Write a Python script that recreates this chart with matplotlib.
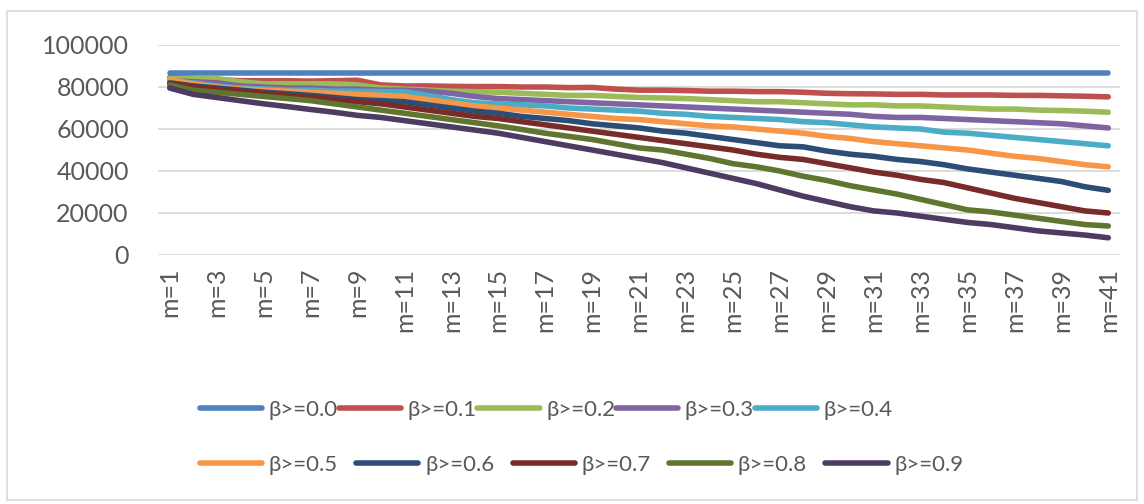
import matplotlib
matplotlib.use("Agg")
from matplotlib import pyplot as plt
from matplotlib.patches import Rectangle

plt.rcParams['font.family'] = ['Lato', 'DejaVu Sans']

m_values = list(range(1, 42))
tick_labels = [f"m={m}" for m in m_values]

beta_00 = [86700] * 41
beta_01 = [84500, 84000, 83500, 83000, 83000, 83000, 82800, 83000, 83200, 81000,
           80500, 80500, 80300, 80200, 80200, 80000, 80000, 79700, 79800, 79000,
           78500, 78500, 78300, 78000, 78000, 77800, 77800, 77500, 77000, 76800,
           76700, 76500, 76500, 76200, 76200, 76200, 76000, 76000, 75800, 75600, 75300]
beta_02 = [84000, 84000, 84000, 82500, 81500, 81500, 81500, 81500, 81000, 79500,
           79000, 78500, 78000, 77800, 77500, 77000, 76500, 76000, 76000, 75500,
           75000, 74800, 74500, 74000, 73500, 73000, 73000, 72500, 72000, 71500,
           71500, 71000, 71000, 70500, 70000, 69500, 69500, 69000, 68800, 68500, 68000]
beta_03 = [83000, 82500, 82000, 80500, 80000, 79500, 79500, 79000, 79000, 78500,
           78500, 78000, 77000, 75500, 74500, 74000, 73500, 73000, 72500, 72000,
           71500, 71000, 70500, 70000, 69500, 69000, 68500, 68000, 67500, 67000,
           66000, 65500, 65500, 65000, 64500, 64000, 63500, 63000, 62500, 61500, 60500]
beta_04 = [82500, 82000, 80500, 79500, 79000, 78500, 78500, 78000, 78000, 77800,
           77700, 76000, 74000, 72500, 72000, 71500, 71000, 70000, 69500, 69000,
           68500, 67500, 67000, 66000, 65500, 65000, 64500, 63500, 63000, 62000,
           61000, 60500, 60000, 58500, 58000, 57000, 56000, 55000, 54000, 53000, 52000]
beta_05 = [83500, 81500, 80000, 79000, 78500, 78000, 77500, 77000, 76500, 76000,
           75500, 74000, 72500, 71000, 70000, 69000, 68000, 67000, 66000, 65000,
           64500, 63500, 62500, 61500, 61000, 60000, 59000, 58000, 56500, 55500,
           54000, 53000, 52000, 51000, 50000, 48500, 47000, 46000, 44500, 43000, 42000]
beta_06 = [82000, 80500, 79500, 78500, 77500, 76800, 76000, 75000, 74000, 73500,
           73000, 71500, 70000, 68500, 67500, 66000, 65000, 64000, 62500, 61500,
           60500, 59000, 58000, 56500, 55000, 53500, 52000, 51500, 49500, 48000,
           47000, 45500, 44500, 43000, 41000, 39500, 38000, 36500, 35000, 32500, 30800]
beta_07 = [81500, 80000, 79000, 78000, 77000, 76000, 75000, 74000, 73000, 72000,
           70500, 69000, 67500, 66000, 65000, 63500, 62000, 60500, 59000, 57500,
           56000, 54500, 53000, 51500, 50000, 48000, 46500, 45500, 43500, 41500,
           39500, 38000, 36000, 34500, 32000, 29500, 27000, 25000, 23000, 21000, 20000]
beta_08 = [81000, 78500, 77500, 76500, 75500, 74500, 73500, 72000, 70500, 69000,
           67500, 66000, 64500, 63000, 61500, 59800, 58000, 56500, 55000, 53000,
           51000, 50000, 48000, 46000, 43500, 42000, 40000, 37500, 35500, 33000,
           31000, 29000, 26500, 24000, 21500, 20500, 19000, 17500, 16000, 14500, 13800]
beta_09 = [79500, 76500, 75000, 73500, 72000, 70700, 69300, 68000, 66500, 65500,
           64000, 62500, 61000, 59500, 58000, 56000, 54000, 52000, 50000, 48000,
           46000, 44000, 41500, 39000, 36500, 34000, 31000, 28000, 25500, 23000,
           21000, 20000, 18500, 17000, 15500, 14500, 13000, 11500, 10500, 9500, 8200]

series = [beta_00, beta_01, beta_02, beta_03, beta_04,
          beta_05, beta_06, beta_07, beta_08, beta_09]
names = ["β>=0.0", "β>=0.1", "β>=0.2", "β>=0.3", "β>=0.4",
         "β>=0.5", "β>=0.6", "β>=0.7", "β>=0.8", "β>=0.9"]
colors = ['#4F81BD', '#C0504D', '#9BBB59', '#8064A2', '#4BACC6',
          '#F79646', '#2C4D75', '#772C2A', '#5F7530', '#4D3B62']

W, H = 1144, 504
fig = plt.figure(figsize=(W / 100, H / 100), dpi=100)
# outer chart border
fig.patches.append(Rectangle((7 / W, 4 / H), 1130 / W, 489 / H, transform=fig.transFigure,
                             fill=False, edgecolor='#D9D9D9', linewidth=1.2))

ax = fig.add_axes([158 / W, 1 - 255 / H, (1120 - 158) / W, (255 - 45) / H])

lines = []
for vals, name, c in zip(series, names, colors):
    ln, = ax.plot(m_values, vals, color=c, linewidth=4, solid_capstyle='round',
                  solid_joinstyle='round', label=name)
    lines.append(ln)

ax.set_xlim(0.5, 41.5)
ax.set_ylim(0, 100000)
ax.set_yticks(range(0, 100001, 20000))
ax.set_yticklabels([str(v) for v in range(0, 100001, 20000)])
ax.set_xticks(m_values[::2])
ax.set_xticklabels(tick_labels[::2], rotation=90)
ax.tick_params(axis='both', length=0, labelsize=18, colors='#595959')
ax.tick_params(axis='y', pad=21)
ax.tick_params(axis='x', pad=9)
ax.grid(axis='y', color='#D9D9D9', linewidth=1.3)
ax.set_axisbelow(True)
for s in ax.spines.values():
    s.set_visible(False)

# legend in two rows, like the original
leg_kw = dict(ncol=5, frameon=False, fontsize=16, handlelength=2.8, handletextpad=0.3,
              borderaxespad=0, borderpad=0, labelcolor='#595959')
leg1 = fig.legend(lines[:5], names[:5], loc='center left',
                  bbox_to_anchor=(200 / W, 1 - 410 / H), columnspacing=0.03, **leg_kw)
leg2 = fig.legend(lines[5:], names[5:], loc='center left',
                  bbox_to_anchor=(200 / W, 1 - 465 / H), columnspacing=0.82, **leg_kw)
for lg in (leg1, leg2):
    for h in lg.legend_handles:
        h.set_linewidth(4)

fig.savefig('out.png', dpi=100)
